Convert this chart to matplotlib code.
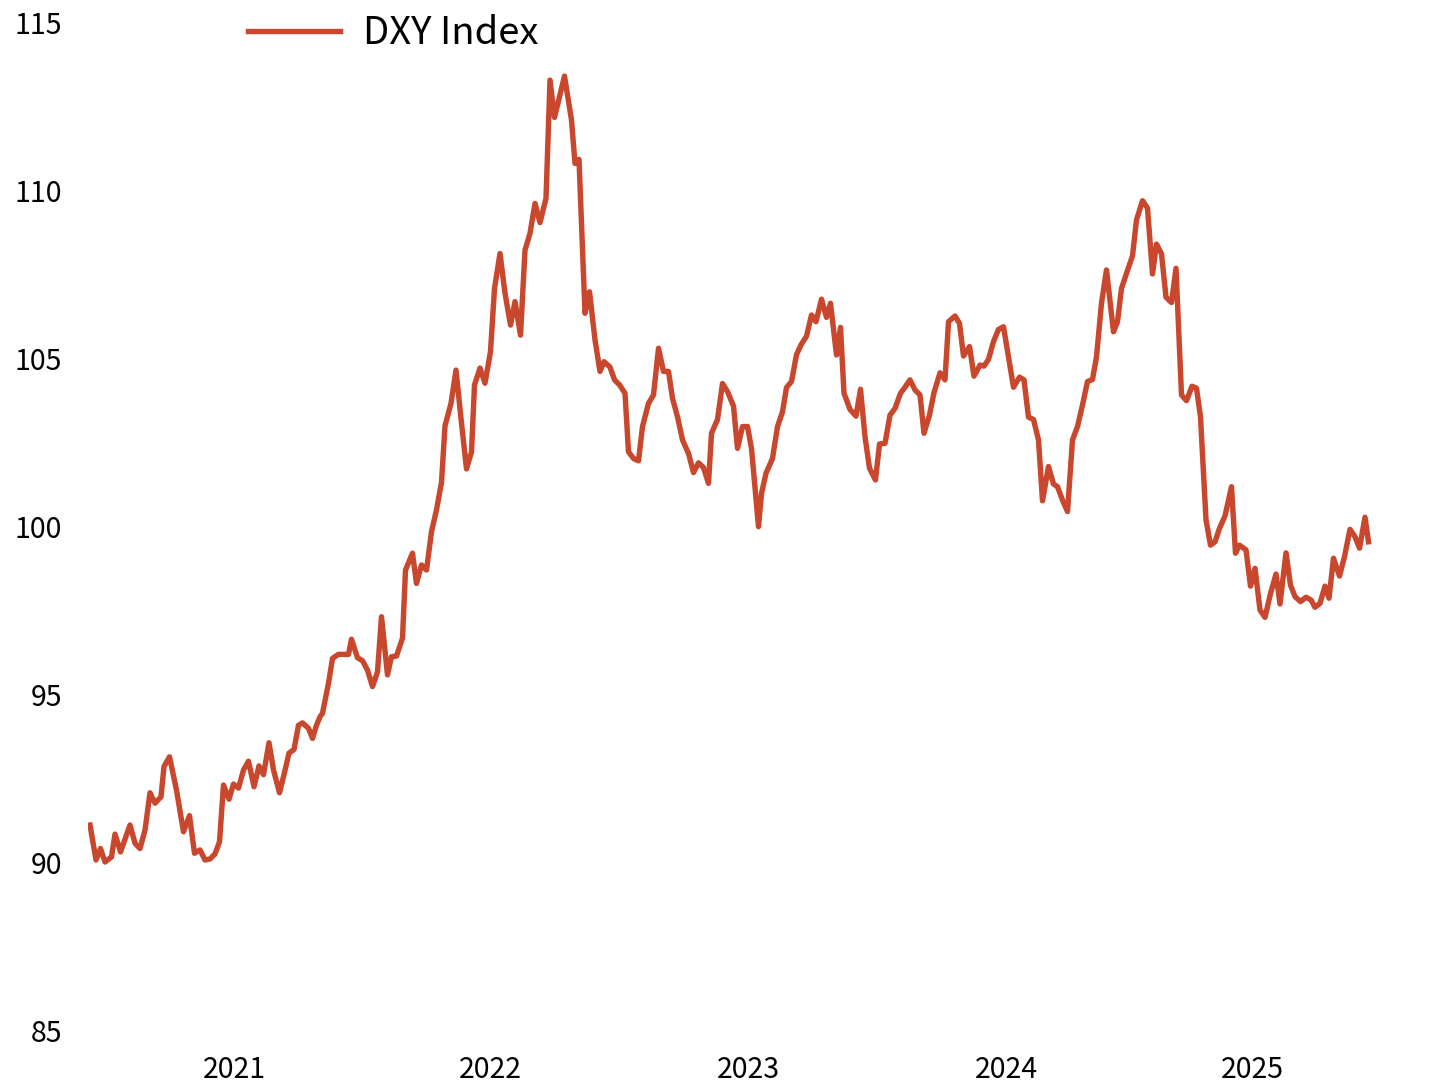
import matplotlib
matplotlib.use('Agg')
from matplotlib import pyplot as plt

weeks = [0, 1.2, 2.1, 3.0, 4.3, 5.0, 6.1, 8.0, 9.0, 10.0, 11.0, 12.0, 13.0, 14.2, 14.8,
         15.9, 17.3, 18.7, 19.9, 20.9, 22.0, 23.0, 24.0, 25.0, 25.9, 26.7, 27.8, 28.7,
         29.7, 30.7, 31.7, 32.8, 33.8, 34.7, 35.8, 36.7, 37.9, 38.8, 39.8, 40.8, 41.7,
         42.5, 43.7, 44.5, 45.3, 46.0, 46.5, 47.7, 48.5, 49.7, 51.7, 52.3, 53.5, 54.5,
         55.5, 56.5, 57.5, 58.3, 59.5, 60.3, 61.3, 62.5, 63.1, 64.5, 65.3, 66.3, 67.3,
         68.3, 69.3, 70.3, 71.0, 72.2, 73.2, 74.2, 75.3, 76.3, 76.9, 78.0, 79.0, 80.1,
         80.9, 82.0, 83.0, 84.1, 85.0, 86.1, 87.0, 88.0, 89.0, 90.0, 91.2, 92.0, 92.9,
         93.9, 94.9, 96.3, 97.0, 97.8, 99.0, 99.9, 101.0, 102.0, 102.8, 104.0, 104.9,
         105.9, 107.0, 107.7, 108.7, 109.7, 110.5, 111.7, 112.7, 113.7, 114.7, 115.7,
         116.5, 117.5, 118.5, 119.7, 120.7, 121.7, 122.7, 123.7, 124.3, 125.5, 126.5,
         127.5, 128.7, 129.5, 130.5, 131.5, 132.3, 133.7, 134.3, 135.2, 136.5, 137.5,
         138.5, 139.3, 140.3, 141.3, 142.2, 143.3, 144.3, 145.2, 146.3, 147.3, 148.1,
         149.3, 150.1, 150.8, 152.0, 153.2, 154.1, 155.0, 155.9, 157.1, 157.9, 159.0,
         160.0, 161.0, 162.1, 163.0, 164.0, 165.0, 166.0, 166.8, 167.9, 168.8, 170.0,
         171.0, 171.7, 173.0, 173.9, 174.7, 175.9, 176.8, 178.0, 178.8, 179.7, 180.7,
         181.7, 182.7, 183.7, 184.7, 185.9, 186.8, 187.7, 188.7, 189.7, 190.5, 191.7,
         192.7, 193.5, 194.5, 195.5, 196.5, 197.5, 198.5, 199.5, 200.5, 201.3, 202.3,
         203.3, 204.7, 205.5, 206.3, 207.3, 208.5, 209.3, 210.5, 211.5, 212.5, 213.3,
         214.3, 215.2, 216.3, 217.2, 218.3, 219.3, 220.4, 221.3, 222.1, 223.2, 224.1,
         225.0, 225.9, 227.0, 228.3, 229.1, 229.9, 231.2, 232.1, 233.0, 234.0, 235.0,
         236.1, 237.2, 238.0, 239.2, 240.1, 241.0, 242.1, 243.2, 244.2, 245.0, 246.0,
         247.0, 247.8, 248.7, 249.9, 250.9, 252.0, 253.0, 253.9, 255.0, 255.7]

dxy = [91.1, 90.06, 90.4, 90.0, 90.15, 90.83, 90.3, 91.1, 90.56, 90.4, 90.95, 92.06, 91.75,
       91.94, 92.84, 93.13, 92.14, 90.9, 91.38, 90.26, 90.36, 90.06, 90.09, 90.24, 90.6,
       92.29, 91.87, 92.32, 92.2, 92.74, 93.0, 92.24, 92.86, 92.6, 93.55, 92.74, 92.06,
       92.6, 93.24, 93.35, 94.07, 94.14, 93.98, 93.68, 94.07, 94.32, 94.43, 95.32, 96.06,
       96.18, 96.18, 96.63, 96.08, 95.99, 95.71, 95.22, 95.66, 97.3, 95.57, 96.11, 96.13,
       96.66, 98.69, 99.19, 98.29, 98.84, 98.69, 99.83, 100.48, 101.3, 102.98, 103.65,
       104.64, 103.2, 101.7, 102.2, 104.2, 104.7, 104.25, 105.19, 107.07, 108.11, 106.93,
       105.98, 106.68, 105.68, 108.21, 108.71, 109.6, 109.03, 109.75, 113.27, 112.16,
       112.78, 113.39, 112.08, 110.79, 110.91, 106.33, 106.97, 105.54, 104.6, 104.89,
       104.73, 104.35, 104.2, 103.95, 102.21, 102.01, 101.94, 102.96, 103.65, 103.9,
       105.29, 104.6, 104.6, 103.8, 103.25, 102.56, 102.16, 101.59, 101.88, 101.74,
       101.27, 102.76, 103.17, 104.24, 104.0, 103.57, 102.31, 102.96, 102.96, 102.31,
       99.98, 100.97, 101.57, 102.01, 102.96, 103.4, 104.12, 104.3, 105.1, 105.39,
       105.65, 106.28, 106.08, 106.75, 106.21, 106.63, 105.09, 105.91, 103.95, 103.47,
       103.27, 104.07, 102.66, 101.72, 101.37, 102.44, 102.46, 103.3, 103.5, 103.95,
       104.13, 104.35, 104.05, 103.9, 102.76, 103.3, 103.97, 104.56, 104.35, 106.08,
       106.25, 106.03, 105.06, 105.34, 104.46, 104.79, 104.76, 104.96, 105.49, 105.85,
       105.93, 105.04, 104.13, 104.43, 104.35, 103.24, 103.17, 102.56, 100.75, 101.77,
       101.25, 101.17, 100.77, 100.43, 102.56, 102.96, 103.6, 104.3, 104.36, 105.04,
       106.63, 107.62, 105.78, 106.08, 107.07, 107.52, 108.04, 109.11, 109.68, 109.46,
       107.5, 108.39, 108.1, 106.81, 106.65, 107.67, 103.9, 103.73, 104.16, 104.1,
       103.25, 100.18, 99.43, 99.53, 99.93, 100.3, 101.17, 99.19, 99.43, 99.29, 98.21,
       98.74, 97.5, 97.28, 97.99, 98.57, 97.68, 99.2, 98.24, 97.9, 97.75, 97.88, 97.8,
       97.58, 97.7, 98.21, 97.85, 99.04, 98.51, 99.09, 99.9, 99.68, 99.34, 100.26, 99.53]

year_ticks = [28.8, 80.0, 131.6, 183.2, 232.4]
year_labels = ['2021', '2022', '2023', '2024', '2025']
y_ticks = [85, 90, 95, 100, 105, 110, 115]

plt.rcParams['font.family'] = ['Noto Sans CJK KR', 'DejaVu Sans']

fig = plt.figure(figsize=(14.4, 10.88), dpi=100)
ax = fig.add_axes([88 / 1440, 1 - 1030 / 1088, (1430 - 88) / 1440, (1030 - 22) / 1088])

ax.plot(weeks, dxy, color='#C8472D', lw=3.9, solid_joinstyle='round', label='DXY Index')

ax.set_xlim(-0.4, 268)
ax.set_ylim(85, 115)
ax.set_xticks(year_ticks)
ax.set_xticklabels(year_labels)
ax.set_yticks(y_ticks)
ax.tick_params(axis='both', length=0, labelsize=20.5, colors='black')
ax.tick_params(axis='x', pad=18)
ax.tick_params(axis='y', pad=18.5)
for s in ax.spines.values():
    s.set_visible(False)

fig.legend(loc='center left', bbox_to_anchor=(248 / 1440, 1 - 34 / 1088),
           frameon=False, fontsize=27.5, borderpad=0, borderaxespad=0,
           handlelength=2.4, handletextpad=0.6)

fig.savefig('out.png', dpi=100)
